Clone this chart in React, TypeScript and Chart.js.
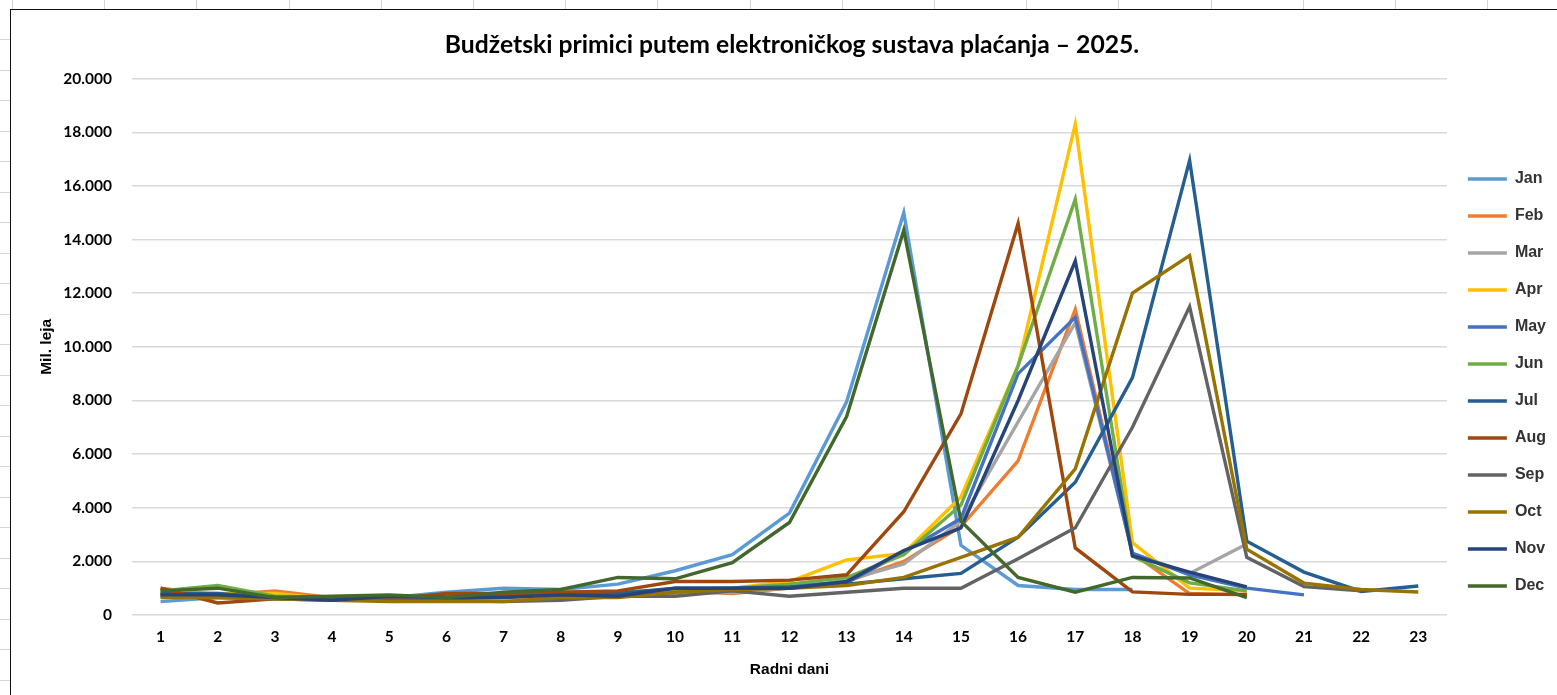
import React, { useEffect, useRef } from "react";
import { Chart, registerables } from "chart.js";

Chart.register(...registerables);

const days = ["1", "2", "3", "4", "5", "6", "7", "8", "9", "10", "11", "12", "13", "14", "15", "16", "17", "18", "19", "20", "21", "22", "23"];
const months = ["Jan", "Feb", "Mar", "Apr", "May", "Jun", "Jul", "Aug", "Sep", "Oct", "Nov", "Dec"];
const monthColors = ["#5B9BD5", "#ED7D31", "#A5A5A5", "#FFC000", "#4472C4", "#70AD47", "#255E91", "#9E480E", "#636363", "#997300", "#264478", "#43682B"];

const jan = [500, 650, 650, 600, 650, 850, 1000, 950, 1150, 1650, 2250, 3800, 7950, 15000, 2600, 1100, 950, 950];
const feb = [1000, 750, 900, 650, 600, 700, 650, 750, 750, 900, 800, 1000, 1250, 2000, 3300, 5750, 11400, 2300, 800, 750];
const mar = [800, 700, 650, 600, 550, 600, 550, 600, 700, 800, 850, 1000, 1300, 1900, 3500, 7200, 10900, 2300, 1550, 2650];
const apr = [850, 800, 800, 600, 550, 550, 600, 700, 750, 900, 1000, 1250, 2050, 2300, 4400, 9300, 18300, 2700, 1000, 900];
const may = [750, 700, 650, 600, 600, 650, 700, 750, 800, 950, 950, 1100, 1200, 2350, 3600, 9000, 11100, 2300, 1500, 1000, 750];
const jun = [900, 1100, 700, 650, 650, 650, 750, 850, 850, 950, 1000, 1150, 1400, 2250, 4100, 9300, 15500, 2200, 1200, 900];
const jul = [800, 800, 650, 650, 700, 650, 700, 750, 800, 1000, 1000, 1050, 1150, 1350, 1550, 2900, 4950, 8850, 16950, 2750, 1600, 880, 1080];
const aug = [1000, 450, 600, 600, 600, 800, 800, 850, 900, 1250, 1250, 1300, 1500, 3850, 7500, 14600, 2500, 860, 770, 770];
const sep = [700, 650, 600, 550, 550, 550, 500, 550, 700, 700, 900, 700, 850, 1000, 1000, 2100, 3250, 7000, 11500, 2150, 1060, 900];
const oct = [650, 650, 600, 550, 500, 500, 500, 650, 650, 850, 950, 1000, 1100, 1400, 2150, 2900, 5450, 12000, 13400, 2450, 1190, 950, 860];
const nov = [750, 750, 650, 550, 700, 650, 650, 750, 700, 1000, 1000, 1000, 1250, 2400, 3250, 8000, 13200, 2200, 1600, 1050];
const dec = [900, 1000, 650, 700, 750, 650, 850, 950, 1400, 1350, 1950, 3450, 7400, 14350, 3500, 1400, 850, 1400, 1380, 650];

const seriesValues = [jan, feb, mar, apr, may, jun, jul, aug, sep, oct, nov, dec];

const Y_MIN = 0;
const Y_MAX = 20000;
const Y_STEP = 2000;

const titleText = "Budžetski primici putem elektroničkog sustava plaćanja – 2025.";
const yTitle = "Mil. leja";
const xTitle = "Radni dani";

const fmt = (v: number) => String(v).replace(/\B(?=(\d{3})+(?!\d))/g, ".");

export default function App() {
  const ref = useRef<HTMLCanvasElement>(null);

  useEffect(() => {
    if (!ref.current) return;
    const tickFont = { family: "Lato", size: 15.5, weight: "bold" as const };
    const axisTitleFont = { family: "Liberation Sans", size: 15.5, weight: "bold" as const };
    const chart = new Chart(ref.current, {
      type: "line",
      data: {
        labels: days,
        datasets: seriesValues.map((vals, i) => ({
          label: months[i],
          data: vals,
          borderColor: monthColors[i],
          backgroundColor: monthColors[i],
          borderWidth: 3.4,
          pointRadius: 0,
          pointHoverRadius: 0,
          tension: 0,
          fill: false,
          order: 12 - i,
        })),
      },
      options: {
        animation: false,
        responsive: false,
        maintainAspectRatio: false,
        layout: { padding: { left: 28, right: 1, top: 0, bottom: 0 } },
        plugins: {
          title: {
            display: true,
            text: titleText,
            color: "#000",
            font: { family: "Lato", size: 24.7, weight: "bold" },
            padding: { top: 30, bottom: 19 },
          },
          legend: {
            position: "right",
            align: "end",
            fullSize: false,
            labels: {
              usePointStyle: true,
              pointStyle: "line",
              pointStyleWidth: 39,
              padding: 21,
              color: "#333",
              font: { family: "Liberation Sans", size: 16, weight: "bold" },
              sort: (a: any, b: any) => a.datasetIndex - b.datasetIndex,
            },
          },
          tooltip: { enabled: false },
        },
        scales: {
          x: {
            offset: true,
            grid: { display: false, drawTicks: false },
            border: { display: false },
            ticks: { color: "#000", font: tickFont, padding: 13, autoSkip: false, maxRotation: 0 },
            title: {
              display: true,
              text: xTitle,
              color: "#000",
              font: axisTitleFont,
              padding: { top: 0, bottom: 16 },
            },
            afterFit: (scale: any) => {
              scale.height = 80;
            },
          },
          y: {
            min: Y_MIN,
            max: Y_MAX,
            grid: { color: "#d9d9d9", lineWidth: 1.5, drawTicks: false },
            border: { display: false },
            ticks: {
              stepSize: Y_STEP,
              color: "#000",
              font: tickFont,
              padding: 20,
              callback: (v: any) => fmt(Number(v)),
            },
            title: {
              display: true,
              text: yTitle,
              color: "#000",
              font: axisTitleFont,
              padding: { top: 9, bottom: 0 },
            },
            afterFit: (scale: any) => {
              scale.width = 104;
            },
          },
        },
      },
    });
    return () => chart.destroy();
  }, []);

  const colTicks: number[] = [];
  for (let x = 12; x < 1557; x += 92.2) colTicks.push(Math.round(x));
  const rowTicks: number[] = [];
  for (let y = 39; y < 695; y += 30.5) rowTicks.push(Math.round(y));

  return (
    <div style={{ position: "fixed", left: 0, top: 0, width: 1557, height: 695, background: "#fff", overflow: "hidden" }}>
      <canvas ref={ref} width={1557} height={695} style={{ position: "absolute", left: 0, top: 0, width: 1557, height: 695 }} />
      {colTicks.map((x) => (
        <div key={"c" + x} style={{ position: "absolute", left: x, top: 0, width: 1, height: 9, background: "#d4d4d4" }} />
      ))}
      {rowTicks.map((y) => (
        <div key={"r" + y} style={{ position: "absolute", left: 0, top: y, width: 10, height: 1, background: "#d4d4d4" }} />
      ))}
      <div
        style={{
          position: "absolute",
          left: 10,
          top: 9,
          width: 1600,
          height: 800,
          borderLeft: "1.5px solid #111",
          borderTop: "1.5px solid #111",
          pointerEvents: "none",
        }}
      />
    </div>
  );
}
